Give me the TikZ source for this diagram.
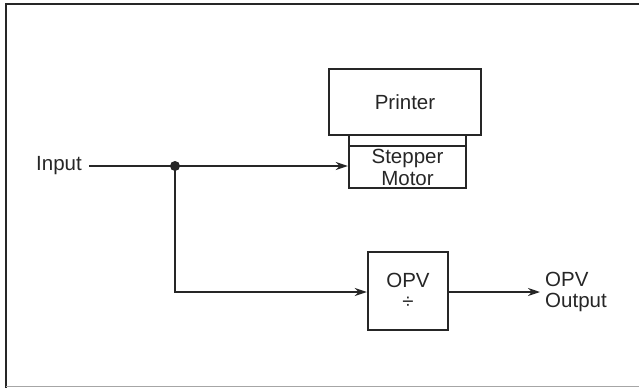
\documentclass[tikz,border=0pt]{standalone}
\usepackage{fontspec}
\setmainfont{Liberation Sans}
\usetikzlibrary{arrows.meta}
\begin{document}
\begin{tikzpicture}[x=1pt,y=1pt,
  box/.style={draw=black!85, line width=2.4pt, inner sep=0pt},
  lbl/.style={font=\fontsize{20.5}{21.5}\selectfont, text=black!85, inner sep=0pt, align=center},
  conn/.style={draw=black!85, line width=2.4pt},
  arr/.style={conn, -{Stealth[length=12pt,width=8pt]}}]
\useasboundingbox (0,0) rectangle (639,-388);
% frame
\draw[line width=2.6pt, black!85] (6,-388) -- (6,-4) -- (639,-4);
\draw[line width=1.2pt, black!35] (6,-386.5) -- (639,-386.5);
% printer and stepper motor
\node[box, minimum width=152pt, minimum height=66pt] (printer) at (405,-102) {};
\node[lbl] (printerlbl) at (printer.center) {Printer};
\node[box, minimum width=117pt, minimum height=53pt] (motor) at (407.5,-161.5) {};
\coordinate (mtl) at (349,-146);
\coordinate (mtr) at (466,-146);
\draw[conn, line width=1.8pt] (mtl) -- (mtr);
\node[lbl] (motorlbl) at (407.5,-167.5) {Stepper\\Motor};
% input
\node[lbl, anchor=east] (input) at (82,-166) {Input};
\fill[black!85] (175,-166) circle (5pt);
\coordinate (dot) at (175,-166);
\draw[conn] (input.east) ++(7,0) -- (dot);
\draw[arr] (dot) -- (motor.west |- dot);
% OPV
\node[box, minimum width=80pt, minimum height=78pt] (opv) at (408,-291) {};
\node[lbl] (opvlbl) at (408,-291) {OPV\\÷};
\coordinate (corner) at (175,-292);
\draw[arr] (dot) -- (corner) -- (opv.west |- corner);
\coordinate (outend) at (540,-292);
\draw[arr] (opv.east |- corner) -- (outend);
\node[lbl, anchor=west, align=left] (output) at (545,-292) {OPV\\Output};
\end{tikzpicture}
\end{document}
